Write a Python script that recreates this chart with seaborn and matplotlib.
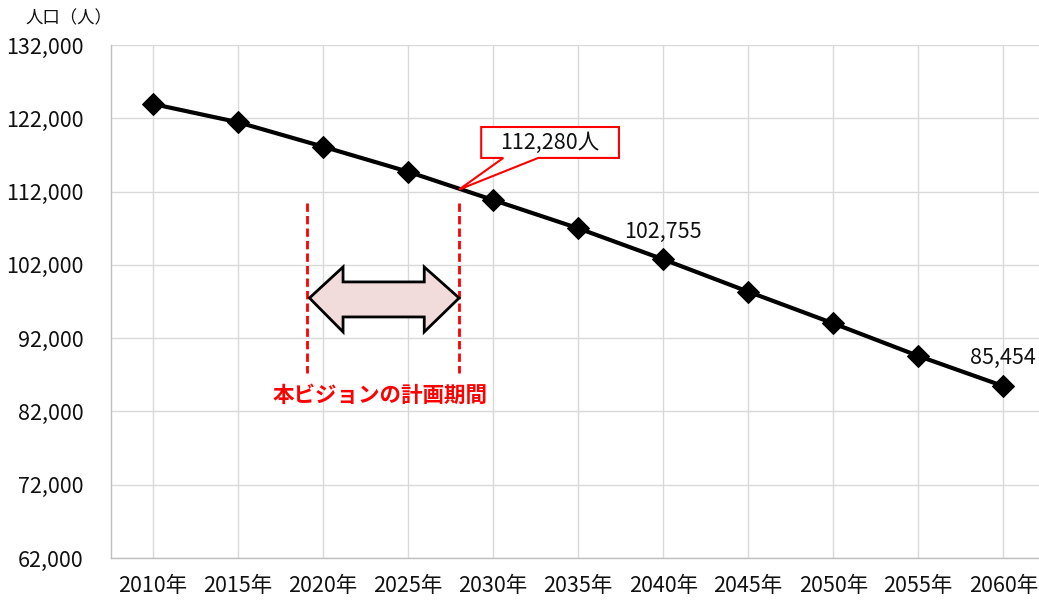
import matplotlib
matplotlib.use("Agg")
import matplotlib.pyplot as plt
import seaborn as sns
import pandas as pd
from matplotlib.patches import Polygon

years = ["2010年", "2015年", "2020年", "2025年", "2030年", "2035年",
         "2040年", "2045年", "2050年", "2055年", "2060年"]
population = [123950, 121460, 118130, 114710, 110850, 106990,
              102755, 98340, 94020, 89570, 85454]
y_ticks = [62000, 72000, 82000, 92000, 102000, 112000, 122000, 132000]
labelled = {6: "102,755", 10: "85,454"}
callout_value = 112280
callout_text = "112,280人"
plan_text = "本ビジョンの計画期間"
ylabel = "人口（人）"

sns.set_theme(style="white")
plt.rcParams['font.family'] = ['Noto Sans CJK JP', 'DejaVu Sans']

fig = plt.figure(figsize=(10.39, 6.01), dpi=100)
ax = fig.add_axes([111/1039, 1-558/601, (1039-111)/1039, (558-45)/601])

df = pd.DataFrame({"year": years, "pop": population})
sns.lineplot(data=df, x="year", y="pop", ax=ax, color="black", linewidth=3,
             marker="D", markersize=11.5, markeredgecolor="black", zorder=5)

ax.set_xlim(-0.494, 10.42)
ax.set_ylim(62000, 132000)
ax.set_yticks(y_ticks)
ax.set_yticklabels([f"{v:,}" for v in y_ticks])
ax.set_xlabel("")
ax.set_ylabel("")
ax.grid(True, color="#d9d9d9", linewidth=1)
ax.set_axisbelow(True)
for s in ["top", "right"]:
    ax.spines[s].set_visible(False)
for s in ["left", "bottom"]:
    ax.spines[s].set_color("#bfbfbf")
    ax.spines[s].set_linewidth(1)
ax.tick_params(axis="y", length=0, pad=20, labelsize=15.5, labelcolor="#111111")
ax.tick_params(axis="x", length=0, pad=12, labelsize=15.5, labelcolor="#111111")

fig.text(25/1039, 1-18/601, ylabel, fontsize=12.5, va="center", ha="left", color="#111111")

# value labels
for i, t in labelled.items():
    ax.annotate(t, (i, population[i]), xytext=(0, 20), textcoords="offset points",
                ha="center", va="center", fontsize=15.5, color="#111111")

# callout
tip_x = 3.6
bx0, bx1 = 3.86, 5.48
by_top, by_bot = 120810, 116590
notch0, notch1 = 4.12, 4.53
callout = Polygon([(bx0, by_top), (bx1, by_top), (bx1, by_bot), (notch1, by_bot),
                   (tip_x, callout_value), (notch0, by_bot), (bx0, by_bot)],
                  closed=True, facecolor="white", edgecolor="#ff0000", linewidth=1.5, zorder=6)
ax.add_patch(callout)
ax.text((bx0+bx1)/2, (by_top+by_bot)/2, callout_text, ha="center", va="center",
        fontsize=15.5, color="#111111", zorder=7)

# plan period lines
line_x = [1.81, 3.6]
for lx in line_x:
    ax.plot([lx, lx], [110450, 87250], color="#ff0000", linestyle=(0, (3, 1.5)),
            linewidth=2, zorder=4)

# double arrow
ax_l, ax_r = 1.84, 3.6
hb_l, hb_r = 2.235, 3.19
yc, bt, bb, ht, hb = 97480, 99670, 94890, 101710, 92850
arrow = Polygon([(ax_l, yc), (hb_l, ht), (hb_l, bt), (hb_r, bt), (hb_r, ht), (ax_r, yc),
                 (hb_r, hb), (hb_r, bb), (hb_l, bb), (hb_l, hb)], closed=True,
                facecolor="#f2dcdb", edgecolor="black", linewidth=2, joinstyle="miter", zorder=6)
ax.add_patch(arrow)

ax.text(2.67, 84250, plan_text, ha="center", va="center", fontsize=15.5,
        fontweight="bold", color="#ff0000", zorder=7)

fig.savefig("out.png", dpi=100)
